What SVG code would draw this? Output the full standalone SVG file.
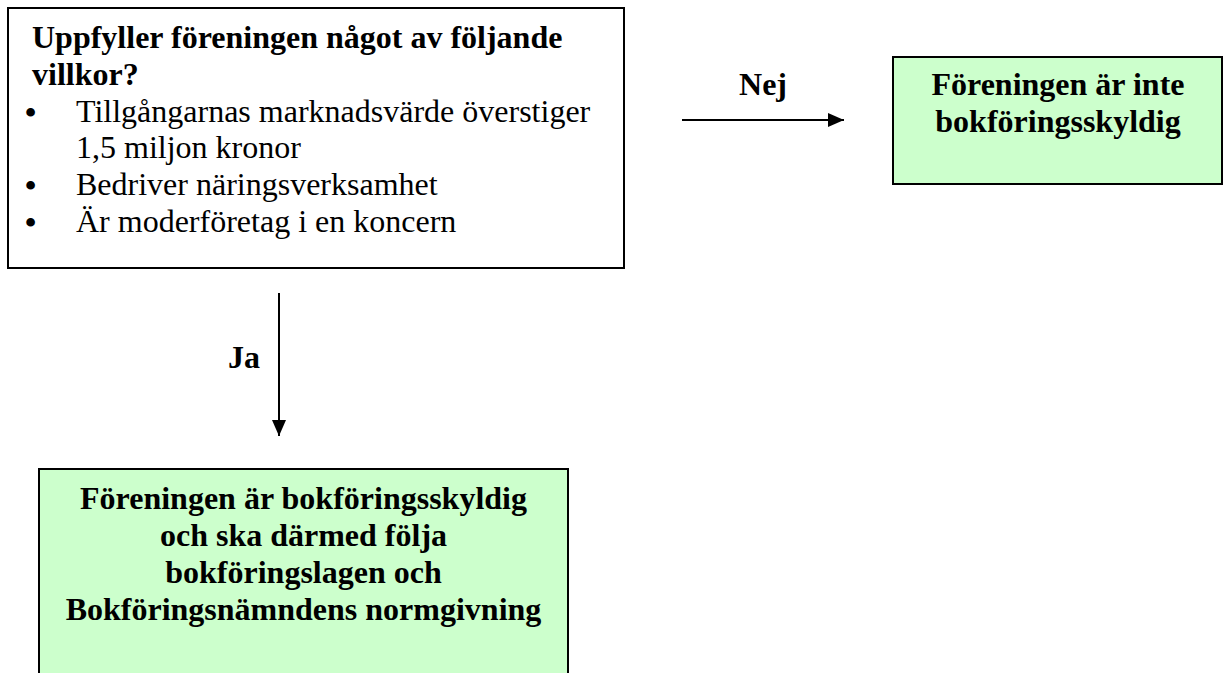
<svg xmlns="http://www.w3.org/2000/svg" width="1225" height="673" viewBox="0 0 1225 673">
  <style>
    .t { font-family: "Liberation Serif", "Times New Roman", serif; font-size: 32px; fill: #000; }
    .b { font-weight: bold; }
    .box { stroke: #000; stroke-width: 2; }
    .green { fill: #CCFFCC; }
    .white { fill: #FFFFFF; }
    .conn { stroke: #000; stroke-width: 2; fill: none; }
  </style>
  <defs>
    <marker id="arrow" viewBox="0 0 16 14" refX="16" refY="7" markerWidth="16" markerHeight="14" markerUnits="userSpaceOnUse" orient="auto">
      <path d="M0,0 L16,7 L0,14 Z" fill="#000"/>
    </marker>
  </defs>
  <rect width="1225" height="673" fill="#FFFFFF"/>

  <g id="question">
    <rect class="box white" x="8" y="8" width="616" height="260"/>
    <text class="t b" x="32" y="48">Uppfyller föreningen något av följande</text>
    <text class="t b" x="32" y="85">villkor?</text>
    <text class="t b" x="25" y="123">•</text>
    <text class="t" x="76" y="122">Tillgångarnas marknadsvärde överstiger</text>
    <text class="t" x="76" y="158">1,5 miljon kronor</text>
    <text class="t b" x="25" y="196">•</text>
    <text class="t" x="76" y="195">Bedriver näringsverksamhet</text>
    <text class="t b" x="25" y="233">•</text>
    <text class="t" x="76" y="232">Är moderföretag i en koncern</text>
  </g>

  <g id="not-required">
    <rect class="box green" x="893" y="57" width="329" height="127"/>
    <text class="t b" x="1058" y="95" text-anchor="middle">Föreningen är inte</text>
    <text class="t b" x="1058" y="132" text-anchor="middle">bokföringsskyldig</text>
  </g>

  <g id="required">
    <path class="box green" d="M39,680 L39,469 L568,469 L568,680"/>
    <text class="t b" x="303.5" y="509" text-anchor="middle">Föreningen är bokföringsskyldig</text>
    <text class="t b" x="303.5" y="546" text-anchor="middle">och ska därmed följa</text>
    <text class="t b" x="303.5" y="583" text-anchor="middle">bokföringslagen och</text>
    <text class="t b" x="303.5" y="620" text-anchor="middle">Bokföringsnämndens normgivning</text>
  </g>

  <g id="connectors">
    <line class="conn" x1="682" y1="120" x2="844" y2="120" marker-end="url(#arrow)"/>
    <text class="t b" x="763" y="95" text-anchor="middle">Nej</text>
    <line class="conn" x1="279" y1="293" x2="279" y2="436" marker-end="url(#arrow)"/>
    <text class="t b" x="244" y="368" text-anchor="middle">Ja</text>
  </g>
</svg>
